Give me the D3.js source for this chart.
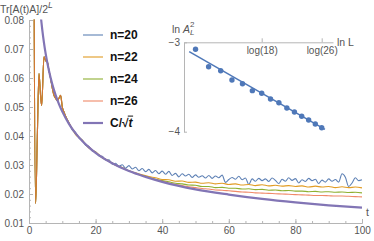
<!DOCTYPE html>
<html>
<head>
<meta charset="utf-8">
<script src="https://cdn.jsdelivr.net/npm/d3@7"></script>
<style>
  body { margin: 0; background: #fff; }
  svg { display: block; font-family: "Liberation Sans", Arial, sans-serif; }
</style>
</head>
<body>
<svg id="chart" width="374" height="241"></svg>
<script>
// shared start of all four curves (t, value)
const tEarly = [0, 1, 1.5, 2, 2.5, 3, 3.5, 3.8, 4.5, 5, 5.5, 6, 6.5, 7, 7.5, 8, 8.5, 9, 9.5, 10, 10.5, 11];
const vEarly = [1.0, 0.5, 0.1, 0.0167, 0.040, 0.0615, 0.0535, 0.0505, 0.0673, 0.0660, 0.0655, 0.0625, 0.0598, 0.0565,
                0.0540, 0.0530, 0.0522, 0.0530, 0.0540, 0.0500, 0.0483, 0.0468];

// tails: n=20 sampled every 1, the others every 2, from t = 12 to 100
const tFine = d3.range(12, 101, 1);
const tCoarse = d3.range(12, 101, 2);

const n20 = [
  .0445, .0421, .0412, .0393, .0386, .0368, .0364, .0348, .0346, .0331,
  .0330, .0317, .0318, .0303, .0306, .0296, .0301, .0289, .0298, .0286,
  .0292, .0280, .0288, .0277, .0285, .0273, .0281, .0270, .0279, .0268,
  .0278, .0264, .0271, .0259, .0270, .0262, .0268, .0257, .0266, .0258,
  .0263, .0255, .0264, .0254, .0262, .0256, .0265, .0240, .0250, .0257,
  .0251, .0261, .0249, .0255, .0233, .0252, .0244, .0254, .0246, .0252,
  .0243, .0255, .0247, .0236, .0251, .0244, .0256, .0247, .0253, .0238,
  .0249, .0243, .0254, .0246, .0251, .0236, .0248, .0241, .0252, .0244,
  .0250, .0241, .0270, .0258, .0226, .0238, .0256, .0246, .0249
];
const n22 = [
  .0446, .0405, .0386, .0358, .0345, .0325, .0314, .0299, .0291, .0280,
  .0273, .0266, .0260, .0256, .0250, .0249, .0244, .0245, .0240, .0241,
  .0237, .0239, .0235, .0237, .0233, .0235, .0231, .0233, .0229, .0232,
  .0228, .0230, .0227, .0229, .0226, .0228, .0224, .0227, .0224, .0226,
  .0222, .0225, .0222, .0224, .0221
];
const n24 = [
  .0443, .0408, .0384, .0360, .0343, .0326, .0313, .0300, .0290, .0280,
  .0271, .0264, .0257, .0251, .0246, .0242, .0237, .0235, .0231, .0230,
  .0226, .0226, .0222, .0223, .0220, .0220, .0217, .0218, .0215, .0216,
  .0213, .0214, .0211, .0212, .0210, .0210, .0208, .0209, .0207, .0208,
  .0206, .0207, .0205, .0206, .0204
];
const n26 = [
  .0444, .0410, .0382, .0362, .0342, .0327, .0312, .0301, .0289, .0280,
  .0271, .0263, .0256, .0249, .0244, .0238, .0233, .0229, .0225, .0222,
  .0219, .0217, .0214, .0213, .0211, .0209, .0207, .0206, .0204, .0203,
  .0202, .0201, .0200, .0199, .0198, .0197, .0196, .0195, .0195, .0194,
  .0193, .0193, .0192, .0191, .0190
];
const seriesNames = ["n=20", "n=22", "n=24", "n=26"];
const seriesColors = ["#5e81b5", "#e19c24", "#8fb032", "#eb6235"];

// C/sqrt(t) curve
const tPurple = [3.4, 3.66, 4, 4.5, 5, 6, 7, 8, 9, 10, 12, 14, 16, 18, 20, 25, 30, 35, 40, 50, 60, 70, 80, 90, 100];
const vPurple = [.0830, .0800, .0765, .0721, .0684, .0625, .0578, .0541, .0510, .0484, .0442, .0409, .0383, .0361,
                 .0342, .0306, .0279, .0259, .0242, .0216, .0198, .0183, .0171, .0161, .0153];

// inset: ln A_L^2 against ln L
const insetL = [12, 13, 14, 15, 16, 17, 18, 19, 20, 21, 22, 23, 24, 25, 26];
const insetLnA2 = [-3.078, -3.273, -3.318, -3.422, -3.463, -3.541, -3.570, -3.634, -3.676, -3.735,
                   -3.780, -3.828, -3.869, -3.914, -3.955];
const fitLnL = [2.446, 3.278];
const fitLnA2 = [-3.105, -3.973];

const xTicks = [0, 20, 40, 60, 80, 100];
const yTicks = [0.01, 0.02, 0.03, 0.04, 0.05, 0.06, 0.07, 0.08];
const insetTickL = [18, 26];
const insetTickLabels = ["log(18)", "log(26)"];

const axisGray = "#b5b5b5";
const labelGray = "#555";

const svg = d3.select("#chart");

const x = d3.scaleLinear().domain([0, 100]).range([29, 362]);
const y = d3.scaleLinear().domain([0.01, 0.08]).range([223, 20]);

function styleAxis(g, size) {
  g.select(".domain").attr("stroke", axisGray);
  g.selectAll(".tick line").attr("stroke", axisGray);
  g.selectAll(".tick text").attr("fill", labelGray).style("font-size", size + "px")
    .style("font-family", '"Liberation Sans", Arial, sans-serif');
}

// minor ticks first
svg.append("g")
  .attr("transform", "translate(0,223)")
  .call(d3.axisBottom(x).tickValues(d3.range(0, 101, 5)).tickSize(-2).tickSizeOuter(0).tickFormat(""))
  .call(g => styleAxis(g, 10));
svg.append("g")
  .attr("transform", "translate(29,0)")
  .call(d3.axisLeft(y).tickValues(d3.range(0.01, 0.0801, 0.002)).tickSize(-2).tickSizeOuter(0).tickFormat(""))
  .call(g => styleAxis(g, 10));

svg.append("g")
  .attr("transform", "translate(0,223)")
  .call(d3.axisBottom(x).tickValues(xTicks).tickSize(-4).tickSizeOuter(0).tickPadding(4))
  .call(g => styleAxis(g, 10));
svg.append("g")
  .attr("transform", "translate(29,0)")
  .call(d3.axisLeft(y).tickValues(yTicks).tickSize(-4).tickSizeOuter(0).tickPadding(4).tickFormat(d3.format(".2f")))
  .call(g => styleAxis(g, 10))
  .call(g => g.selectAll(".tick text").attr("x", -5));

// axis labels
const title = svg.append("text").attr("x", 0).attr("y", 12.5)
  .attr("fill", labelGray).style("font-size", "10.5px").text("Tr[A(t)A]/2");
title.append("tspan").attr("dy", -4.5).style("font-size", "8.5px").style("font-style", "italic").text("L");

svg.append("text").attr("x", 366).attr("y", 216)
  .attr("fill", labelGray).style("font-size", "10.5px").text("t");

// curves
svg.append("clipPath").attr("id", "plotclip")
  .append("rect").attr("x", 29).attr("y", 19.5).attr("width", 335).attr("height", 204);

const line = d3.line()
  .x(d => x(d[0]))
  .y(d => y(d[1]))
  .curve(d3.curveMonotoneX);

const early = tEarly.map((t, i) => [t, vEarly[i]]);
const seriesData = [
  early.concat(tFine.map((t, i) => [t, n20[i]])),
  early.concat(tCoarse.map((t, i) => [t, n22[i]])),
  early.concat(tCoarse.map((t, i) => [t, n24[i]])),
  early.concat(tCoarse.map((t, i) => [t, n26[i]]))
];
const seriesOpacity = [1, 1, 1, 0.75];

const plot = svg.append("g").attr("clip-path", "url(#plotclip)");
seriesData.forEach((data, i) => {
  plot.append("path")
    .datum(data)
    .attr("fill", "none")
    .attr("stroke", seriesColors[i])
    .attr("stroke-opacity", seriesOpacity[i])
    .attr("stroke-width", 1.1)
    .attr("stroke-linejoin", "round")
    .attr("d", line);
});
plot.append("path")
  .datum(tPurple.map((t, i) => [t, vPurple[i]]))
  .attr("fill", "none")
  .attr("stroke", "#8275b5")
  .attr("stroke-width", 2.2)
  .attr("d", line);

// legend
const legend = svg.append("g");
seriesNames.forEach((name, i) => {
  const ly = 35 + i * 22;
  legend.append("line")
    .attr("x1", 83).attr("x2", 103).attr("y1", ly).attr("y2", ly)
    .attr("stroke", seriesColors[i]).attr("stroke-opacity", seriesOpacity[i]).attr("stroke-width", 1.1);
  legend.append("text").attr("x", 110).attr("y", ly + 4.3)
    .style("font-size", "12px").style("font-weight", "bold").attr("fill", "#111").text(name);
});
const ly5 = 35 + 4 * 22;
legend.append("line")
  .attr("x1", 83).attr("x2", 103).attr("y1", ly5).attr("y2", ly5)
  .attr("stroke", "#8275b5").attr("stroke-width", 2.2);
const cLabel = legend.append("text").attr("x", 110).attr("y", ly5 + 4.3)
  .style("font-size", "12px").style("font-weight", "bold").attr("fill", "#111");
cLabel.append("tspan").text("C/\u221A");
cLabel.append("tspan").style("font-style", "italic").text("t");
const cNode = cLabel.node();
const rootExt = cNode.getExtentOfChar(2);
const tEnd = cNode.getEndPositionOfChar(3).x;
legend.append("line")
  .attr("x1", rootExt.x + rootExt.width - 0.8).attr("x2", tEnd + 0.5)
  .attr("y1", ly5 + 4.3 - 11.2).attr("y2", ly5 + 4.3 - 11.2)
  .attr("stroke", "#111").attr("stroke-width", 1);

// inset
const ix = d3.scaleLinear().domain([Math.log(18), Math.log(26)]).range([261.7, 321.7]);
const iy = d3.scaleLinear().domain([-3, -4]).range([42.3, 131.7]);
const ixDomain = [ix.invert(184), ix.invert(333)];
ix.domain(ixDomain).range([184, 333]);

svg.append("g")
  .attr("transform", "translate(0," + iy(-3) + ")")
  .call(d3.axisBottom(ix).tickValues(insetTickL.map(Math.log)).tickSize(-4).tickSizeOuter(0).tickPadding(5)
    .tickFormat((d, i) => insetTickLabels[i]))
  .call(g => styleAxis(g, 10));
svg.append("g")
  .attr("transform", "translate(" + ix.range()[0] + ",0)")
  .call(d3.axisLeft(iy).tickValues([-3, -4]).tickSize(-3).tickSizeOuter(0).tickPadding(4).tickFormat(d3.format("d")))
  .call(g => styleAxis(g, 10));

const inLabel = svg.append("text").attr("x", 172).attr("y", 33)
  .attr("fill", labelGray).style("font-size", "10.5px");
inLabel.append("tspan").text("ln ");
inLabel.append("tspan").style("font-style", "italic").text("A");
inLabel.append("tspan").attr("dy", -6).style("font-size", "8px").text("2");
inLabel.append("tspan").attr("dx", -4.5).attr("dy", 8).style("font-size", "8px").style("font-style", "italic").text("L");

svg.append("text").attr("x", 337).attr("y", 46)
  .attr("fill", labelGray).style("font-size", "10.5px").text("ln L");

svg.append("line")
  .attr("x1", ix(fitLnL[0])).attr("y1", iy(fitLnA2[0]))
  .attr("x2", ix(fitLnL[1])).attr("y2", iy(fitLnA2[1]))
  .attr("stroke", "#4f78b8").attr("stroke-width", 1.5);

svg.selectAll(".dot")
  .data(insetL)
  .enter().append("circle")
    .attr("class", "dot")
    .attr("cx", d => ix(Math.log(d)))
    .attr("cy", (d, i) => iy(insetLnA2[i]))
    .attr("r", 2.7)
    .attr("fill", "#4f78b8");
</script>
</body>
</html>
